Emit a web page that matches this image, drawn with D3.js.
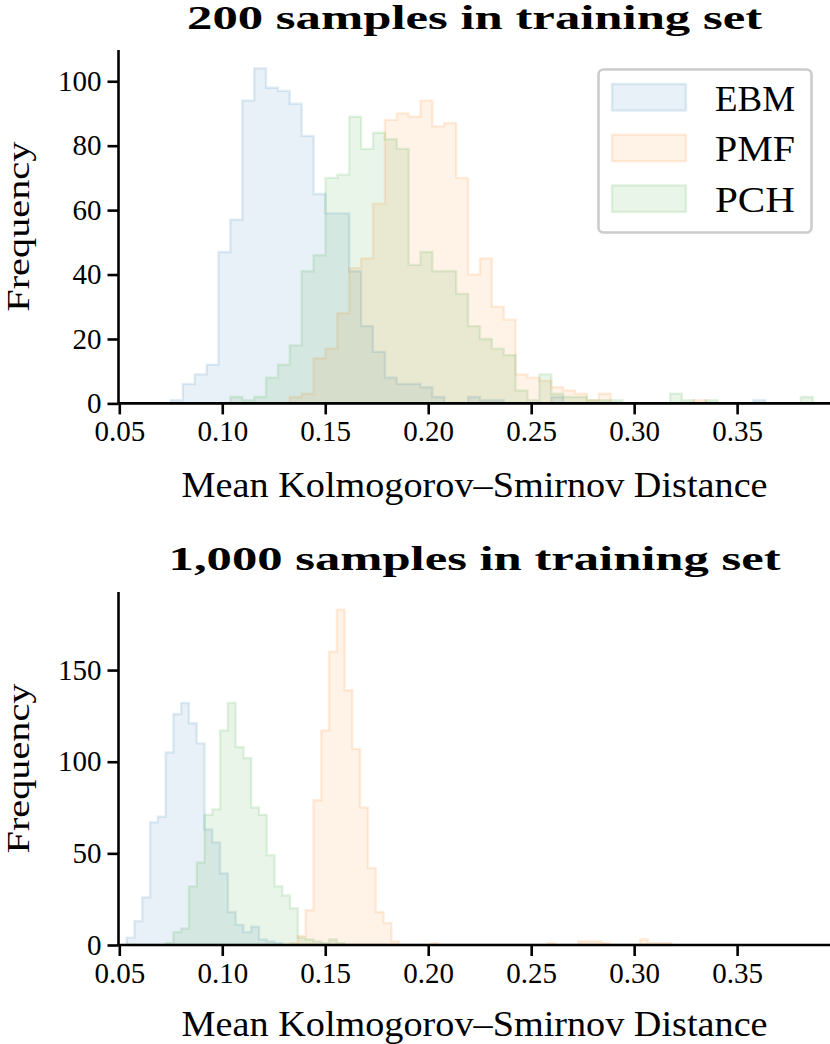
<!DOCTYPE html>
<html><head><meta charset="utf-8">
<script src="https://cdn.jsdelivr.net/npm/d3@7"></script>
<style>body{margin:0;background:#fff} svg{display:block}</style>
</head><body><svg id="c" width="830" height="1044"></svg>
<script>
const seriesNames = ["EBM", "PMF", "PCH"];
const seriesColors = ["#1f77b4", "#ff7f0e", "#2ca02c"];
const xTickValues = [0.05, 0.10, 0.15, 0.20, 0.25, 0.30, 0.35];
const topYTickValues = [0, 20, 40, 60, 80, 100];
const botYTickValues = [0, 50, 100, 150];
const titles = ["200 samples in training set", "1,000 samples in training set"];
const xLabel = "Mean Kolmogorov\u2013Smirnov Distance";
const yLabel = "Frequency";

// top panel: 54 shared bins
const topBinRange = [0.0751, 0.3867];
const topEBM = [1,6,9,12,47,57,94,104,98,97,93,83,65,59,59,41,24,16,8,6,6,5,2,0,0,2,1,1,0,0,0,0,2,0,0,0,0,0,0,0,0,0,0,0,0,0,0,0,0,1,0,0,0,0];
const topPMF = [0,0,0,0,0,0,0,0,0,0,2,3,14,17,28,42,45,62,88,90,89,94,86,87,70,40,45,30,26,9,8,7,5,4,3,1,3,0,0,0,0,0,0,0,1,0,0,0,0,0,0,0,0,0];
const topPCH = [0,0,0,0,0,2,1,2,8,12,18,41,46,70,71,89,79,84,82,79,43,47,41,41,34,24,20,17,15,4,1,9,3,2,2,1,1,1,0,0,0,0,3,1,0,1,0,0,0,0,0,0,0,2];

// bottom panel: 70 shared bins
const botBinRange = [0.0536, 0.3181];
const botEBM = [4,13,26,67,70,105,126,132,121,110,63,56,39,18,11,7,10,3,2,1,0,0,0,0,0,0,0,0,0,0,0,0,0,0,0,0,0,0,0,0,0,0,0,0,0,0,0,0,0,0,0,0,0,0,0,0,0,0,0,0,0,0,0,0,0,0,0,0,0,0];
const botPMF = [0,0,0,0,0,0,0,0,0,0,0,0,0,0,0,0,0,0,0,0,0,1,5,19,79,117,160,183,139,107,75,42,18,12,2,0,0,0,0,1,0,0,0,0,0,0,0,0,0,0,0,0,0,0,1,0,0,0,2,2,2,1,0,0,0,0,3,1,1,1];
const botPCH = [0,0,0,0,0,1,7,9,32,45,71,74,117,132,108,102,75,71,49,32,27,20,4,3,2,1,3,1,0,0,0,0,0,0,0,0,0,0,0,0,0,0,0,0,0,0,0,0,0,0,0,0,0,0,0,0,0,0,0,0,0,0,0,0,0,0,0,0,0,0];

const svg = d3.select("#c");
const SERIF = "'Liberation Serif', 'DejaVu Serif', serif";

function panel(cfg) {
  const x = d3.scaleLinear().domain([0.05, 0.3951]).range([119.3, 830]);
  const y = d3.scaleLinear().domain([0, cfg.yMax]).range([cfg.base, cfg.top]);
  const g = svg.append("g");
  const nb = cfg.data[0].length;
  const edges = d3.range(nb + 1).map(i => cfg.range[0] + (cfg.range[1] - cfg.range[0]) * i / nb);
  cfg.data.forEach((counts, si) => {
    const pts = [[edges[0], 0]];
    counts.forEach((c, i) => { pts.push([edges[i], c]); pts.push([edges[i + 1], c]); });
    pts.push([edges[nb], 0]);
    const line = d3.line().x(d => x(d[0])).y(d => y(d[1]));
    g.append("path").attr("d", line(pts) + "Z")
      .attr("fill", seriesColors[si]).attr("fill-opacity", 0.1)
      .attr("stroke", seriesColors[si]).attr("stroke-opacity", 0.13)
      .attr("stroke-width", 2.4).attr("stroke-linejoin", "miter");
  });
  const xa = g.append("g").attr("transform", `translate(0,${cfg.base})`)
    .call(d3.axisBottom(x).tickValues(xTickValues).tickFormat(d3.format(".2f")).tickSize(11).tickPadding(6));
  const ya = g.append("g").attr("transform", `translate(118.5,0)`)
    .call(d3.axisLeft(y).tickValues(cfg.yTicks).tickFormat(d3.format("d")).tickSize(11).tickPadding(6));
  [xa, ya].forEach(a => {
    a.select(".domain").attr("stroke", "#000").attr("stroke-width", 2.6);
    a.selectAll(".tick line").attr("stroke", "#000").attr("stroke-width", 2.6);
    a.selectAll(".tick text").attr("fill", "#000").attr("font-family", SERIF).attr("font-size", 29);
  });
  xa.select(".domain").attr("d", `M118.5,0H830`);
  ya.select(".domain").attr("d", `M0,${cfg.base}V${cfg.top}`);
  g.append("text").attr("x", 474.6).attr("y", cfg.titleY).attr("text-anchor", "middle")
    .attr("font-family", SERIF).attr("font-weight", "bold").attr("font-size", 33)
    .attr("textLength", cfg.titleLen).attr("lengthAdjust", "spacingAndGlyphs").text(cfg.title);
  g.append("text").attr("x", 474.6).attr("y", cfg.xLabelY).attr("text-anchor", "middle")
    .attr("font-family", SERIF).attr("font-size", 35)
    .attr("textLength", 586).attr("lengthAdjust", "spacingAndGlyphs").text(xLabel);
  g.append("text").attr("transform", `translate(29,${(cfg.base + cfg.top) / 2}) rotate(-90)`)
    .attr("text-anchor", "middle").attr("font-family", SERIF).attr("font-size", 32)
    .attr("textLength", 170).attr("lengthAdjust", "spacingAndGlyphs").text(yLabel);
}

panel({ data: [topEBM, topPMF, topPCH], range: topBinRange, yMax: 109.7, base: 403.4, top: 50,
  yTicks: topYTickValues, title: titles[0], titleY: 29, titleLen: 575, xLabelY: 497 });
panel({ data: [botEBM, botPMF, botPCH], range: botBinRange, yMax: 192.6, base: 945, top: 592,
  yTicks: botYTickValues, title: titles[1], titleY: 570, titleLen: 612, xLabelY: 1036 });

// legend
const lg = svg.append("g");
lg.append("rect").attr("x", 598.5).attr("y", 69.5).attr("width", 213).attr("height", 163).attr("rx", 5)
  .attr("fill", "#fff").attr("fill-opacity", 0.8).attr("stroke", "#cccccc").attr("stroke-width", 2.6);
seriesNames.forEach((n, i) => {
  const yy = 84 + i * 50.7;
  lg.append("rect").attr("x", 612).attr("y", yy).attr("width", 74).attr("height", 26.5)
    .attr("fill", seriesColors[i]).attr("fill-opacity", 0.1)
    .attr("stroke", seriesColors[i]).attr("stroke-opacity", 0.13).attr("stroke-width", 2.4);
  lg.append("text").attr("x", 715).attr("y", yy + 26.5).attr("font-family", SERIF)
    .attr("font-size", 35).attr("textLength", 80).attr("lengthAdjust", "spacingAndGlyphs").text(n);
});
</script></body></html>
